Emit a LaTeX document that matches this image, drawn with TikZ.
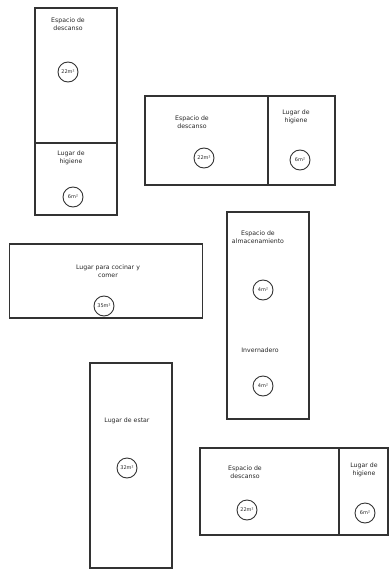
\documentclass[tikz,border=0pt]{standalone}
\usepackage{fontspec}
\setmainfont{DejaVu Sans}
\begin{document}
\begin{tikzpicture}[x=1pt,y=-1pt,
  room/.style={draw=black!80,line width=1.1pt,inner sep=0pt},
  lbl/.style={font=\fontsize{6.2}{7.5}\selectfont,text=black!85,align=center,inner sep=1pt},
  area/.style={draw=black!80,line width=0.9pt,circle,minimum size=20pt,inner sep=0pt,font=\fontsize{5}{5.5}\selectfont,text=black!85}]
\useasboundingbox (0,0) rectangle (389,572);
% Box 1
\node[room,minimum width=82pt,minimum height=207pt] (b1) at (76,111.5) {};
\coordinate (b1l) at (35,143); \coordinate (b1r) at (117,143);
\draw[room] (b1l) -- (b1r);
\node[lbl] (t1a) at (68,24) {Espacio de\\descanso};
\node[area] (c1a) at (68,72) {22m²};
\node[lbl] (t1b) at (71,158) {Lugar de\\higiene};
\node[area] (c1b) at (73,197) {6m²};
% Box 2
\node[room,minimum width=190pt,minimum height=89pt] (b2) at (240,140.5) {};
\coordinate (b2t) at (268,96); \coordinate (b2b) at (268,185);
\draw[room] (b2t) -- (b2b);
\node[lbl] (t2a) at (192,122) {Espacio de\\descanso};
\node[area] (c2a) at (204,158) {22m²};
\node[lbl] (t2b) at (296,117) {Lugar de\\higiene};
\node[area] (c2b) at (300,160) {6m²};
% Box 3
\node[room,minimum width=193pt,minimum height=74pt] (b3) at (106,281) {};
\node[lbl] (t3) at (108,271) {Lugar para cocinar y\\comer};
\node[area] (c3) at (104,306) {35m²};
% Box 4
\node[room,minimum width=82pt,minimum height=207pt] (b4) at (268,315.5) {};
\node[lbl] (t4a) at (258,237) {Espacio de\\almacenamiento};
\node[area] (c4a) at (263,290) {4m²};
\node[lbl] (t4b) at (260,350) {Invernadero};
\node[area] (c4b) at (263,386) {4m²};
% Box 5
\node[room,minimum width=82pt,minimum height=205pt] (b5) at (131,465.5) {};
\node[lbl] (t5) at (127,421) {Lugar de estar};
\node[area] (c5) at (127,468) {32m²};
% Box 6
\node[room,minimum width=188pt,minimum height=87pt] (b6) at (294,491.5) {};
\coordinate (b6t) at (339,448); \coordinate (b6b) at (339,535);
\draw[room] (b6t) -- (b6b);
\node[lbl] (t6a) at (245,472) {Espacio de\\descanso};
\node[area] (c6a) at (247,510) {22m²};
\node[lbl] (t6b) at (364,470) {Lugar de\\higiene};
\node[area] (c6b) at (365,513) {6m²};
\end{tikzpicture}
\end{document}
